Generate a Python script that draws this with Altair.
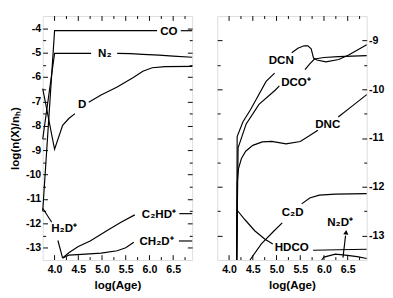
import altair as alt
import pandas as pd

# ---------------- left panel data (log(Age), log(n(X)/nH)) ----------------
CO_A_X = [3.75, 4.0, 6.16]
CO_A_Y = [-11.5, -4.1, -4.1]
CO_B_X = [6.66, 6.9]
CO_B_Y = [-4.1, -4.1]

N2_A_X = [3.75, 4.0, 4.77]
N2_A_Y = [-8.55, -5.03, -5.03]
N2_B_X = [5.32, 5.6, 5.86, 6.2, 6.5, 6.9]
N2_B_Y = [-5.03, -5.04, -5.07, -5.1, -5.14, -5.19]

D_A_X = [3.75, 4.0, 4.17, 4.3, 4.43]
D_A_Y = [-6.47, -8.96, -7.98, -7.7, -7.5]
D_B_X = [4.72, 4.98, 5.32, 5.66, 5.86, 6.06, 6.33, 6.9]
D_B_Y = [-7.03, -6.74, -6.41, -6.02, -5.76, -5.62, -5.57, -5.56]

H2DP_A_X = [3.75, 3.94]
H2DP_A_Y = [-11.38, -11.95]
H2DP_B_X = [4.07, 4.17]
H2DP_B_Y = [-12.7, -13.42]

CH2DP_A_X = [4.17, 4.3, 4.57, 4.98, 5.32, 5.5, 5.67]
CH2DP_A_Y = [-13.42, -13.3, -13.27, -13.22, -13.12, -13.0, -12.77]
CH2DP_B_X = [6.62, 6.9]
CH2DP_B_Y = [-12.72, -12.72]

C2HDP_A_X = [4.17, 4.3, 4.5, 4.75, 5.1, 5.4, 5.69]
C2HDP_A_Y = [-13.42, -13.2, -12.95, -12.72, -12.3, -11.95, -11.65]
C2HDP_B_X = [6.63, 6.9]
C2HDP_B_Y = [-11.6, -11.6]

LEFT_LABELS = ["CO", "N₂", "D", "H₂D⁺", "C₂HD⁺", "CH₂D⁺"]
LEFT_LAB_X = [6.41, 5.06, 4.58, 4.2, 6.2, 6.15]
LEFT_LAB_Y = [-4.1, -5.02, -7.12, -12.2, -11.6, -12.72]

# ---------------- right panel data ----------------
DCN_A_X = [4.16, 4.17, 4.29, 4.45, 4.57, 4.78, 4.96]
DCN_A_Y = [-13.5, -10.97, -10.67, -10.42, -10.21, -9.84, -9.67]
DCN_B_X = [5.32, 5.45, 5.58, 5.66, 5.73, 5.78, 5.85, 6.04, 6.31, 6.52, 6.9]
DCN_B_Y = [-9.25, -9.16, -9.11, -9.11, -9.17, -9.36, -9.4, -9.44, -9.39, -9.3, -9.09]

DCOP_A_X = [4.16, 4.19, 4.36, 4.63, 4.97, 5.06]
DCOP_A_Y = [-13.5, -11.2, -10.71, -10.31, -10.02, -9.93]
DCOP_B_X = [5.6, 5.7, 5.8, 6.0, 6.3, 6.6, 6.9]
DCOP_B_Y = [-9.6, -9.48, -9.38, -9.35, -9.33, -9.32, -9.31]

DNC_A_X = [4.16, 4.17, 4.2, 4.26, 4.35, 4.5, 4.7, 4.9, 5.2, 5.5, 5.7, 5.87]
DNC_A_Y = [-13.5, -11.92, -11.62, -11.42, -11.27, -11.15, -11.08, -11.07, -11.12, -11.07, -10.95, -10.84]
DNC_B_X = [6.3, 6.6, 6.9]
DNC_B_Y = [-10.57, -10.34, -10.11]

C2D_A_X = [4.44, 4.68, 4.95, 5.12]
C2D_A_Y = [-13.5, -13.17, -12.9, -12.74]
C2D_B_X = [5.53, 5.7, 5.9, 6.24, 6.9]
C2D_B_Y = [-12.35, -12.23, -12.17, -12.15, -12.14]

HDCO_A_X = [4.16, 4.17, 4.34, 4.54, 4.75, 4.92]
HDCO_A_Y = [-13.5, -12.48, -12.68, -12.9, -13.07, -13.17]
HDCO_B_X = [5.77, 6.3, 6.9]
HDCO_B_Y = [-13.3, -13.29, -13.28]

N2DP_X = [5.95, 6.0, 6.24, 6.45, 6.7, 6.9]
N2DP_Y = [-13.5, -13.44, -13.38, -13.4, -13.43, -13.47]

ARROW_X = [6.40, 6.455]
ARROW_Y = [-13.45, -13.0]
ARROW_HEAD_X = [6.465]
ARROW_HEAD_Y = [-12.93]

RIGHT_LABELS = ["DCN", "DCO⁺", "DNC", "C₂D", "HDCO", "N₂D⁺"]
RIGHT_LAB_X = [5.1, 5.41, 6.08, 5.34, 5.32, 6.34]
RIGHT_LAB_Y = [-9.4, -9.85, -10.72, -12.52, -13.24, -12.72]

# ---------------- axes ----------------
X_DOMAIN = [3.75, 6.9]
X_MAJOR = [4.0, 4.5, 5.0, 5.5, 6.0, 6.5]
X_MINOR = [4.25, 4.75, 5.25, 5.75, 6.25, 6.75]
LEFT_Y_DOMAIN = [-13.5, -3.5]
LEFT_Y_MAJOR = [-13, -12, -11, -10, -9, -8, -7, -6, -5, -4]
LEFT_Y_MINOR = [-12.5, -11.5, -10.5, -9.5, -8.5, -7.5, -6.5, -5.5, -4.5]
RIGHT_Y_DOMAIN = [-13.5, -8.5]
RIGHT_Y_MAJOR = [-13, -12, -11, -10, -9]
RIGHT_Y_MINOR = [-12.5, -11.5, -10.5, -9.5]

FONT = "Liberation Sans"
W, H = 155, 253
MAJOR, MINOR = 5, 3


def seg_frame(segs):
    rows = []
    for name, xs, ys in segs:
        for i, (a, b) in enumerate(zip(xs, ys)):
            rows.append({"x": a, "y": b, "seg": name, "i": i})
    return pd.DataFrame(rows)


def yaxis(orient, values, size, labels=False, title=None):
    kw = dict(orient=orient, values=values, offset=-size, tickSize=size,
              domain=False, grid=False, labels=labels,
              tickColor="black", title=title)
    if labels:
        kw.update(labelFont=FONT, labelFontWeight="bold", labelFontSize=11,
                  labelColor="black", labelPadding=2, labelExpr="'' + datum.value",
                  titleFont=FONT, titleFontWeight="bold", titleFontSize=12,
                  titleColor="black", titlePadding=4)
    return alt.Axis(**kw)


XAXIS = alt.Axis(orient="bottom", values=X_MAJOR, ticks=False, domain=False, grid=False,
                 format=".1f", labelFont=FONT, labelFontWeight="bold", labelFontSize=11,
                 labelColor="black", labelPadding=4, title="log(Age)",
                 titleFont=FONT, titleFontWeight="bold", titleFontSize=12,
                 titleColor="black", titlePadding=6)


def panel(segs, labs, ydomain, ymaj, ymin, label_side, arrow=None):
    df = seg_frame(segs)
    xs = alt.Scale(domain=X_DOMAIN, nice=False, zero=False)
    ys = alt.Scale(domain=ydomain, nice=False, zero=False)
    other = "right" if label_side == "left" else "left"
    ytitle = "log(n(X)/nₕ)" if label_side == "left" else None

    def base(xaxis, yax, visible):
        m = alt.Chart(df).mark_line(color="black", strokeWidth=1.2,
                                    opacity=1 if visible else 0)
        return m.encode(
            x=alt.X("x:Q", scale=xs, axis=xaxis),
            y=alt.Y("y:Q", scale=ys, axis=yax),
            detail="seg:N",
            order="i:Q",
        )

    l1 = base(XAXIS, yaxis(label_side, ymaj, MAJOR, True, ytitle), True)
    l2 = base(None, yaxis(other, ymaj, MAJOR), False)
    l3 = base(None, yaxis(label_side, ymin, MINOR), False)
    l4 = base(None, yaxis(other, ymin, MINOR), False)

    def xticks(values, y0, y1):
        tdf = pd.DataFrame({"v": values})
        return alt.Chart(tdf).mark_rule(color="black", strokeWidth=1).encode(
            x=alt.X("v:Q", scale=xs, axis=None),
            y=alt.value(y0), y2=alt.value(y1),
        )

    ticks = [xticks(X_MAJOR, H, H - MAJOR), xticks(X_MINOR, H, H - MINOR),
             xticks(X_MAJOR, 0, MAJOR), xticks(X_MINOR, 0, MINOR)]

    lab_df = pd.DataFrame({"x": labs[0], "y": labs[1], "t": labs[2]})
    txt = alt.Chart(lab_df).mark_text(font=FONT, fontWeight="bold", fontSize=12,
                                      color="black").encode(
        x=alt.X("x:Q", scale=xs, axis=None),
        y=alt.Y("y:Q", scale=ys, axis=None),
        text="t:N",
    )
    layers = [l1, l2, l3, l4] + ticks + [txt]
    if arrow is not None:
        adf = pd.DataFrame({"x": arrow[0], "y": arrow[1], "i": list(range(len(arrow[0])))})
        al = alt.Chart(adf).mark_line(color="black", strokeWidth=1.2).encode(
            x=alt.X("x:Q", scale=xs, axis=None),
            y=alt.Y("y:Q", scale=ys, axis=None),
            order="i:Q",
        )
        hdf = pd.DataFrame({"x": arrow[2], "y": arrow[3]})
        ah = alt.Chart(hdf).mark_point(shape="triangle-up", filled=True, size=28,
                                       angle=6, color="black", opacity=1).encode(
            x=alt.X("x:Q", scale=xs, axis=None),
            y=alt.Y("y:Q", scale=ys, axis=None),
        )
        layers += [al, ah]
    return alt.layer(*layers).resolve_axis(x="independent", y="independent").properties(
        width=W, height=H)


left = panel(
    [("CO-a", CO_A_X, CO_A_Y), ("CO-b", CO_B_X, CO_B_Y),
     ("N2-a", N2_A_X, N2_A_Y), ("N2-b", N2_B_X, N2_B_Y),
     ("D-a", D_A_X, D_A_Y), ("D-b", D_B_X, D_B_Y),
     ("H2D-a", H2DP_A_X, H2DP_A_Y), ("H2D-b", H2DP_B_X, H2DP_B_Y),
     ("CH2D-a", CH2DP_A_X, CH2DP_A_Y), ("CH2D-b", CH2DP_B_X, CH2DP_B_Y),
     ("C2HD-a", C2HDP_A_X, C2HDP_A_Y), ("C2HD-b", C2HDP_B_X, C2HDP_B_Y)],
    (LEFT_LAB_X, LEFT_LAB_Y, LEFT_LABELS),
    LEFT_Y_DOMAIN, LEFT_Y_MAJOR, LEFT_Y_MINOR, "left")

right = panel(
    [("DCN-a", DCN_A_X, DCN_A_Y), ("DCN-b", DCN_B_X, DCN_B_Y),
     ("DCO-a", DCOP_A_X, DCOP_A_Y), ("DCO-b", DCOP_B_X, DCOP_B_Y),
     ("DNC-a", DNC_A_X, DNC_A_Y), ("DNC-b", DNC_B_X, DNC_B_Y),
     ("C2D-a", C2D_A_X, C2D_A_Y), ("C2D-b", C2D_B_X, C2D_B_Y),
     ("HDCO-a", HDCO_A_X, HDCO_A_Y), ("HDCO-b", HDCO_B_X, HDCO_B_Y),
     ("N2D", N2DP_X, N2DP_Y)],
    (RIGHT_LAB_X, RIGHT_LAB_Y, RIGHT_LABELS),
    RIGHT_Y_DOMAIN, RIGHT_Y_MAJOR, RIGHT_Y_MINOR, "right",
    arrow=(ARROW_X, ARROW_Y, ARROW_HEAD_X, ARROW_HEAD_Y))

chart = alt.hconcat(left, right, spacing=22).properties(
    padding={"left": 0, "top": 2, "right": 0, "bottom": 0}
).configure_view(stroke="black", strokeWidth=1.2).configure(background="white")

chart.save("out.html", embed_options={"renderer": "svg", "actions": False})
